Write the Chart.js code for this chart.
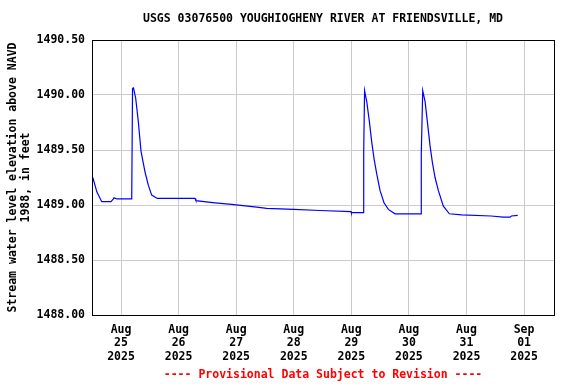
<!DOCTYPE html>
<html>
<head>
<meta charset="utf-8">
<script src="https://cdn.jsdelivr.net/npm/chart.js@4/dist/chart.umd.min.js"></script>
<style>
  html, body { margin: 0; padding: 0; background: #fff; }
  #wrap { width: 576px; height: 384px; }
</style>
</head>
<body>
<div id="wrap"><canvas id="chart"></canvas></div>
<script>
// time in days since Aug 25 2025 00:00, gage height in feet
const days = [
  -0.49, -0.42, -0.335, -0.174, -0.14, -0.122, -0.07, 0.186,
  0.2, 0.217, 0.255, 0.3, 0.347, 0.417, 0.474, 0.533, 0.63,
  1.285, 1.3, 1.633, 1.923, 2.357, 2.53, 3.0, 3.457, 3.995, 4.0,
  4.209, 4.215, 4.23, 4.268, 4.313, 4.355, 4.395, 4.442, 4.499, 4.568, 4.643, 4.759,
  5.211, 5.215, 5.24, 5.281, 5.32, 5.367, 5.407, 5.454, 5.512, 5.598, 5.703,
  5.918, 6.427, 6.64, 6.757, 6.78, 6.89
];
const levels = [
  1489.25, 1489.12, 1489.03, 1489.03, 1489.05, 1489.065, 1489.055, 1489.055,
  1490.06, 1490.065, 1489.97, 1489.76, 1489.49, 1489.30, 1489.18, 1489.09, 1489.06,
  1489.06, 1489.04, 1489.02, 1489.005, 1488.98, 1488.97, 1488.96, 1488.95, 1488.94, 1488.93,
  1488.93, 1489.48, 1490.04, 1489.94, 1489.76, 1489.57, 1489.42, 1489.28, 1489.13, 1489.02, 1488.96, 1488.92,
  1488.92, 1489.47, 1490.04, 1489.94, 1489.76, 1489.54, 1489.39, 1489.25, 1489.13, 1488.99, 1488.92,
  1488.91, 1488.90, 1488.89, 1488.89, 1488.90, 1488.905
];

const tickDays = [0, 1, 2, 3, 4, 5, 6, 7];
const tickMonths = ['Aug', 'Aug', 'Aug', 'Aug', 'Aug', 'Aug', 'Aug', 'Sep'];
const tickDates = ['25', '26', '27', '28', '29', '30', '31', '01'];
const tickYear = '2025';
const yTicks = [1488.0, 1488.5, 1489.0, 1489.5, 1490.0, 1490.5];

const titleText = 'USGS 03076500 YOUGHIOGHENY RIVER AT FRIENDSVILLE, MD';
const yTitle = ['Stream water level elevation above NAVD', '1988, in feet'];
const footerText = '---- Provisional Data Subject to Revision ----';

const monoFont = { family: "'DejaVu Sans Mono', monospace", size: 11.5, weight: 'bold', lineHeight: 1.17 };

const points = days.map((d, i) => ({ x: d, y: levels[i] }));

new Chart(document.getElementById('chart'), {
  type: 'line',
  data: {
    datasets: [{
      data: points,
      borderColor: '#0000ff',
      borderWidth: 1.2,
      pointRadius: 0,
      tension: 0,
      fill: false,
    }],
  },
  options: {
    responsive: true,
    maintainAspectRatio: false,
    animation: false,
    events: [],
    layout: {
      padding: { top: 40, right: 22, bottom: 0, left: 0 },
    },
    plugins: {
      legend: { display: false },
      tooltip: { enabled: false },
    },
    scales: {
      x: {
        type: 'linear',
        min: -0.504,
        max: 7.52,
        afterBuildTicks: (scale) => {
          scale.ticks = tickDays.map((v) => ({ value: v }));
        },
        afterFit: (scale) => {
          scale.height = 69;
        },
        ticks: {
          color: '#000',
          font: monoFont,
          maxRotation: 0,
          autoSkip: false,
          padding: 8,
          callback: (value) => {
            const i = tickDays.indexOf(value);
            return i < 0 ? '' : [tickMonths[i], tickDates[i], tickYear];
          },
        },
        grid: { color: '#cccccc', drawTicks: false },
        border: { color: '#000', width: 1 },
      },
      y: {
        min: 1488,
        max: 1490.5,
        afterBuildTicks: (scale) => {
          scale.ticks = yTicks.map((v) => ({ value: v }));
        },
        afterFit: (scale) => {
          scale.width = 92;
        },
        ticks: {
          color: '#000',
          font: monoFont,
          padding: 7,
          callback: (value) => value.toFixed(2),
        },
        grid: { color: '#cccccc', drawTicks: false },
        border: { color: '#000', width: 1 },
        title: {
          display: true,
          text: yTitle,
          color: '#000',
          font: monoFont,
          padding: { top: 6, bottom: 2 },
        },
      },
    },
  },
  plugins: [{
    id: 'frameAndTexts',
    afterDatasetsDraw(chart) {
      const a = chart.chartArea;
      const ctx = chart.ctx;
      ctx.save();
      ctx.strokeStyle = '#000';
      ctx.lineWidth = 1;
      ctx.strokeRect(Math.round(a.left) + 0.5, Math.round(a.top) + 0.5,
        Math.round(a.right - a.left), Math.round(a.bottom - a.top));
      const cx = (a.left + a.right) / 2;
      ctx.textAlign = 'center';
      ctx.textBaseline = 'middle';
      ctx.font = "bold 11.5px 'DejaVu Sans Mono', monospace";
      ctx.fillStyle = '#000';
      ctx.fillText(titleText, cx, 19);
      ctx.fillStyle = '#ff0000';
      ctx.fillText(footerText, cx, 375);
      ctx.restore();
    },
  }],
});
</script>
</body>
</html>
